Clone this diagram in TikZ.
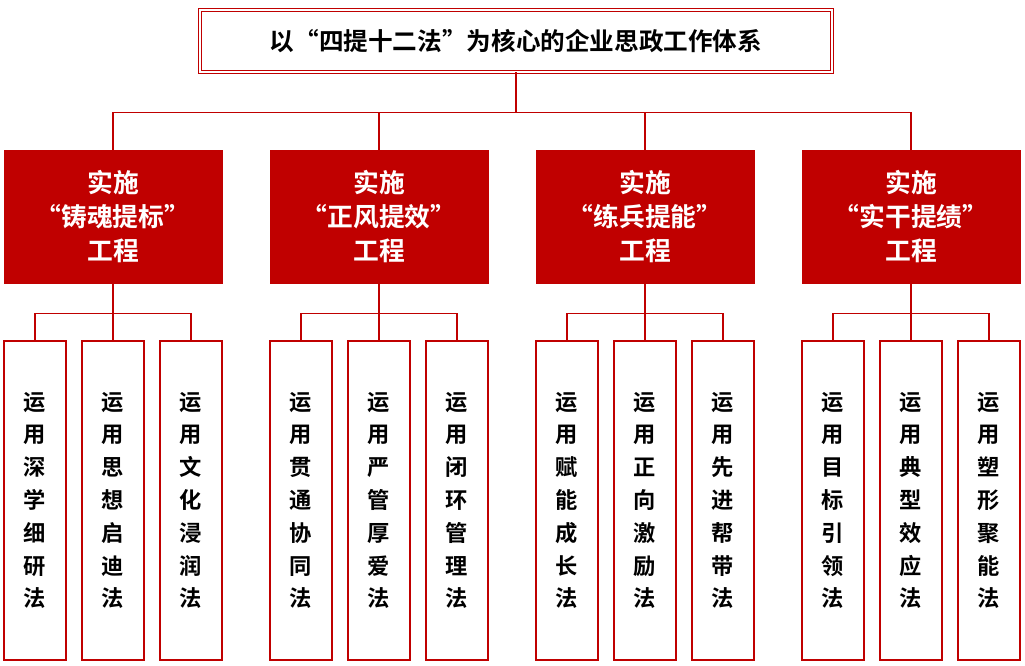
\documentclass[tikz,border=0pt]{standalone}
\usepackage{fontspec}
\setmainfont{Noto Sans CJK SC}[BoldFont={Noto Sans CJK SC Bold}]
\usetikzlibrary{positioning}
\definecolor{darkred}{RGB}{192,0,0}
\tikzset{
  topbox/.style = {draw = darkred, double = white, double distance = 2pt, line width = 0.6pt, fill = white,
    minimum width = 632*0.03cm, minimum height = 62*0.03cm, font = \bfseries\fontsize{21}{24}\selectfont},
  midbox/.style = {draw = darkred, fill = darkred, text = white, align = center,
    minimum width = 218*0.03cm, minimum height = 133*0.03cm, font = \bfseries\fontsize{22}{29}\selectfont},
  leafbox/.style = {draw = darkred, line width = 1pt, fill = white, align = center, inner sep = 0pt,
    minimum width = 62*0.03cm, minimum height = 319*0.03cm, font = \bfseries\fontsize{19}{28}\selectfont},
  link/.style = {draw = darkred, line width = 1pt}
}
\begin{document}
\begin{tikzpicture}[x = 0.03cm, y = -0.03cm]
\useasboundingbox (0,0) rectangle (1025,666);
\node[topbox] (top) at (516,41) {以“四提十二法”为核心的企业思政工作体系};
\foreach \g/\name/\a/\b/\c in {0/铸魂提标/深\\学\\细\\研/思\\想\\启\\迪/文\\化\\浸\\润,
                               1/正风提效/贯\\通\\协\\同/严\\管\\厚\\爱/闭\\环\\管\\理,
                               2/练兵提能/赋\\能\\成\\长/正\\向\\激\\励/先\\进\\帮\\带,
                               3/实干提绩/目\\标\\引\\领/典\\型\\效\\应/塑\\形\\聚\\能} {
  \pgfmathsetmacro{\cx}{113+266*\g}
  \node[midbox] (mid\g) at (\cx,216.5) {实施\\“\name”\\工程};
  \draw[link] (top.south) |- ++(0,40) -| (mid\g.north);
  \foreach \k/\txt in {0/\a,1/\b,2/\c} {
    \pgfmathsetmacro{\lx}{\cx+78*(\k-1)}
    \node[leafbox] (leaf\g\k) at (\lx,500.5) {运\\用\\\txt\\法};
    \draw[link] (mid\g.south) -- ++(0,30) -| (leaf\g\k.north);
  }
}
\end{tikzpicture}
\end{document}
